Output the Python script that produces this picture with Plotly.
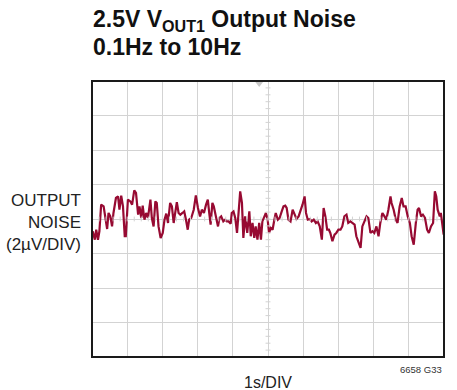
import numpy as np
import plotly.graph_objects as go

# 0.1Hz to 10Hz output noise capture, 1s/DIV horizontal, 2µV/DIV vertical
time_s = [0.02, 0.08, 0.12, 0.17, 0.21, 0.26, 0.33, 0.38, 0.43, 0.47, 0.52, 0.57, 0.61, 0.68, 0.74,
          0.78, 0.83, 0.88, 0.93, 0.96, 1.02, 1.09, 1.14, 1.20, 1.25, 1.31, 1.35, 1.40, 1.44, 1.49,
          1.54, 1.59, 1.66, 1.70, 1.75, 1.80, 1.84, 1.89, 1.95, 2.01, 2.06, 2.11, 2.16, 2.22, 2.27,
          2.32, 2.37, 2.41, 2.46, 2.51, 2.57, 2.62, 2.67, 2.72, 2.76, 2.82, 2.89, 2.95, 3.01, 3.07,
          3.12, 3.18, 3.24, 3.29, 3.33, 3.37, 3.42, 3.46, 3.52, 3.58, 3.62, 3.67, 3.73, 3.78, 3.83,
          3.88, 3.94, 3.97, 4.02, 4.07, 4.12, 4.16, 4.21, 4.26, 4.30, 4.35, 4.41, 4.47, 4.51, 4.56,
          4.61, 4.65, 4.70, 4.75, 4.80, 4.84, 4.89, 4.94, 4.99, 5.03, 5.08, 5.13, 5.18, 5.22, 5.28,
          5.33, 5.39, 5.44, 5.49, 5.53, 5.58, 5.64, 5.70, 5.75, 5.81, 5.87, 5.92, 5.98, 6.04, 6.08,
          6.13, 6.19, 6.24, 6.30, 6.36, 6.41, 6.47, 6.53, 6.58, 6.63, 6.68, 6.73, 6.77, 6.83, 6.89,
          6.94, 7.00, 7.06, 7.11, 7.17, 7.23, 7.28, 7.34, 7.40, 7.46, 7.51, 7.57, 7.63, 7.68, 7.74,
          7.80, 7.85, 7.91, 7.97, 8.02, 8.08, 8.14, 8.19, 8.25, 8.31, 8.36, 8.42, 8.48, 8.51, 8.57,
          8.63, 8.68, 8.74, 8.80, 8.85, 8.91, 8.97, 9.03, 9.08, 9.14, 9.20, 9.25, 9.29, 9.35, 9.40,
          9.46, 9.52, 9.57, 9.63, 9.69, 9.74, 9.78, 9.82, 9.88, 9.91, 9.95, 9.99]
noise_uv = [-0.71, -1.20, -0.62, -1.20, -0.71, 0.83, 0.73, -0.04, -0.58, 0.35, 0.15, -0.43, 0.35, 1.22, 1.31,
            0.54, 1.35, 0.73, -1.00, -1.00, 1.12, 1.02, 0.83, 1.66, 1.51, 0.25, 0.73, 0.06, 0.77, -0.04,
            0.35, 0.06, 1.12, 0.06, -0.43, 1.02, 0.93, -0.43, -1.10, -0.81, -0.04, 0.31, -0.23, 0.93, 0.73,
            -0.23, 0.54, 0.97, 0.35, 0.25, 0.35, 0.44, -0.04, -0.62, -0.04, 0.06, 0.54, 1.37, 0.64, 0.15,
            0.54, 0.35, 0.83, 1.12, 0.35, -0.33, 0.93, 0.73, 0.15, -0.43, 0.06, 0.15, -0.14, -0.04, -0.14,
            -0.14, -0.27, 0.35, 0.44, 0.06, -0.81, 0.54, 1.60, 0.93, -1.10, 0.15, -0.81, 0.44, -1.00, -0.23,
            -1.10, -0.43, -1.20, -0.23, -1.20, -0.14, 0.06, 0.35, -0.04, -0.81, -0.52, -0.62, -0.04, 0.35, -0.04,
            0.06, 0.44, 0.73, 0.77, 0.64, -0.04, -0.14, 0.54, 0.25, 0.00, 0.15, 0.44, 0.83, 1.31, 0.35,
            -0.04, 0.00, -0.14, -0.04, -0.23, -0.14, -0.43, -1.20, 0.64, 0.15, -0.62, -0.62, -0.81, -1.29, -0.91,
            -0.81, -0.62, -0.62, -0.43, 0.15, 0.25, -0.23, -0.14, -0.23, -0.33, -1.00, -1.39, -1.68, -0.43, -0.14,
            0.15, 0.06, -0.81, -0.71, -0.81, -0.43, -1.00, -0.23, 0.35, 0.15, -0.04, 0.54, 1.31, 0.93, 0.54,
            -0.04, -0.23, 0.73, 1.22, 0.73, 0.73, 0.15, -0.23, -1.00, -1.49, -0.23, 0.54, 0.64, 0.15, 0.25,
            0.06, -0.62, -0.81, -0.43, -0.23, 1.60, 1.31, 0.54, 0.15, 0.35, -0.43, -0.91]

X_DIV, Y_DIV = 1.0, 2.0      # s/DIV, µV/DIV
N_X, N_Y = 10, 8             # graticule divisions

TRACE = "#970a32"
GRID = "#d3d3d3"
NARROW = "Liberation Sans Narrow, Arial Narrow, Arial, sans-serif"

fig = go.Figure()

fig.add_trace(go.Scatter(
    x=time_s, y=noise_uv, mode="lines",
    line=dict(color=TRACE, width=2.2), showlegend=False, hoverinfo="skip",
))

# trigger-position marker along the top edge
fig.add_trace(go.Scatter(
    x=[4.75], y=[N_Y / 2 * Y_DIV - 0.15], mode="markers",
    marker=dict(symbol="triangle-down", size=7, color="#c8c8c8"),
    cliponaxis=False, showlegend=False, hoverinfo="skip",
))

x_max = N_X * X_DIV
y_half = N_Y / 2 * Y_DIV
shapes = []
# minor ticks on the centre cross, five per division
for k in range(N_Y * 5 + 1):
    yv = -y_half + k * Y_DIV / 5
    shapes.append(dict(type="line", xref="x", yref="y", x0=x_max / 2 - 0.07, x1=x_max / 2 + 0.07,
                       y0=yv, y1=yv, line=dict(color=GRID, width=1)))
for k in range(N_X * 5 + 1):
    xv = k * X_DIV / 5
    shapes.append(dict(type="line", xref="x", yref="y", x0=xv, x1=xv,
                       y0=-0.14, y1=0.14, line=dict(color=GRID, width=1)))
# graticule border
shapes.append(dict(type="rect", xref="paper", yref="paper", x0=0, x1=1, y0=0, y1=1,
                   line=dict(color="#1a1a1a", width=2), layer="above"))

TITLE_FONT = dict(family=NARROW, size=23, color="#111111")
LABEL_FONT = dict(family=NARROW, size=17, color="#222222")

fig.update_layout(
    width=457, height=390,
    margin=dict(l=92, r=13, t=81, b=33),
    paper_bgcolor="white", plot_bgcolor="white",
    shapes=shapes,
    xaxis=dict(range=[0, x_max], dtick=X_DIV, showgrid=True, gridcolor=GRID, gridwidth=1.3,
               showticklabels=False, zeroline=False, ticks="", fixedrange=True),
    yaxis=dict(range=[-y_half, y_half], dtick=Y_DIV, showgrid=True, gridcolor=GRID, gridwidth=1.3,
               showticklabels=False, zeroline=False, ticks="", fixedrange=True),
    annotations=[
        dict(text="<b>2.5V V<sub>OUT1</sub> Output Noise</b>",
             xref="paper", yref="paper", x=0, y=1, xshift=-1, yshift=77,
             xanchor="left", yanchor="top", align="left", showarrow=False, font=TITLE_FONT),
        dict(text="<b>0.1Hz to 10Hz</b>",
             xref="paper", yref="paper", x=0, y=1, xshift=-1, yshift=49,
             xanchor="left", yanchor="top", align="left", showarrow=False, font=TITLE_FONT),
        dict(text="OUTPUT<br>NOISE<br>(2µV/DIV)", xref="paper", yref="paper",
             x=0, y=0.5, xshift=-9, yshift=-3, xanchor="right", yanchor="middle", align="right",
             showarrow=False, font=LABEL_FONT),
        dict(text="1s/DIV", xref="paper", yref="paper", x=0.5, y=0, yshift=-15,
             xanchor="center", yanchor="top", showarrow=False, font=dict(family=NARROW, size=16, color="#222222")),
        dict(text="6658 G33", xref="paper", yref="paper", x=1, y=0, yshift=-5,
             xanchor="right", yanchor="top", showarrow=False,
             font=dict(family=NARROW, size=9.5, color="#333333")),
    ],
)

fig.write_html("out.html")
